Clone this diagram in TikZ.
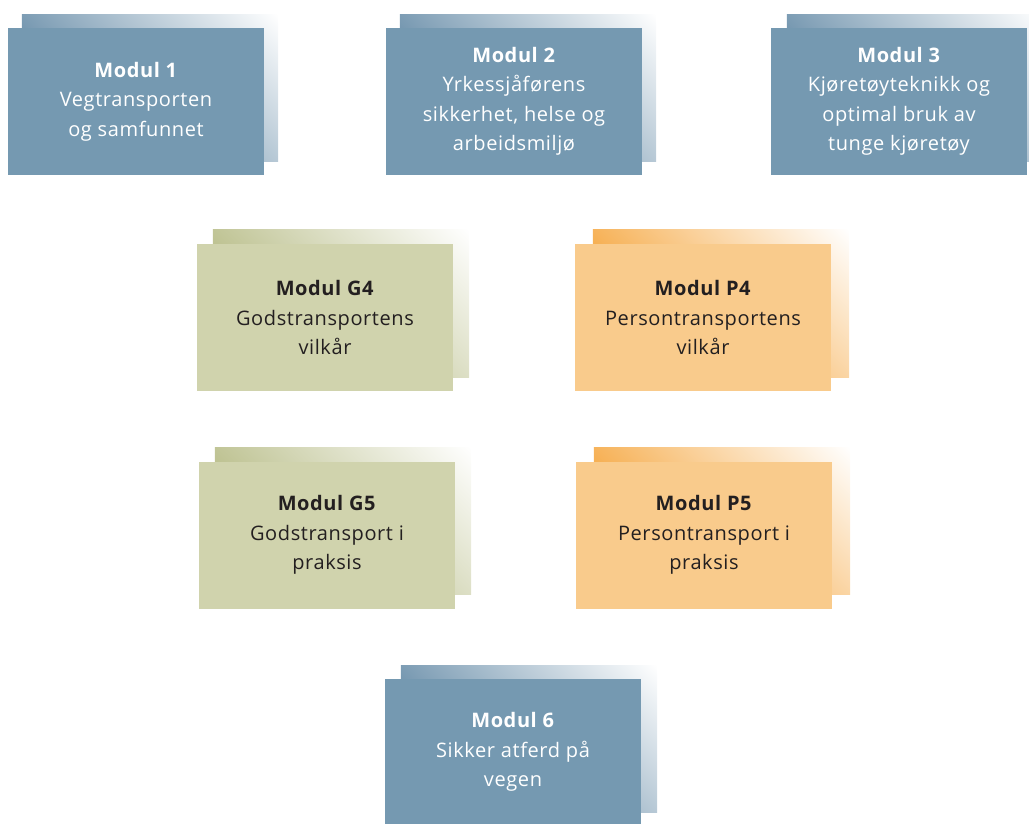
\documentclass[tikz,border=0pt]{standalone}
\usepackage{fontspec}
\setmainfont[LetterSpace=3]{Open Sans}
\usetikzlibrary{calc}
\definecolor{bluebox}{RGB}{117,153,177}
\definecolor{blueshade}{RGB}{100,138,166}
\definecolor{greenbox}{RGB}{208,211,173}
\definecolor{greenshade}{RGB}{181,186,131}
\definecolor{orangebox}{RGB}{249,203,140}
\definecolor{orangeshade}{RGB}{245,165,60}
\definecolor{darktext}{RGB}{35,31,32}
\newcommand\backcard[4]{%
  \node[backbox] (#1) at (#2,#3) {};
  \begin{scope}
    \clip (#1.south west) rectangle (#1.north east);
    \begin{scope}[transform canvas={rotate around={44:(#1.north east)}}]
      \shade[left color=#4, right color=white]
        ($(#1.north east)+(-220,-300)$) rectangle ($(#1.north east)+(0,300)$);
    \end{scope}
  \end{scope}}
\begin{document}
\begin{tikzpicture}[x=1pt,y=-1pt,
  frontbox/.style={minimum width=256pt, minimum height=147pt, inner sep=0pt,
    align=center, font=\fontsize{20}{29.5}\selectfont},
  backbox/.style={minimum width=256pt, minimum height=147pt, inner sep=0pt},
  bluemod/.style={frontbox, fill=bluebox, text=white},
  greenmod/.style={frontbox, fill=greenbox, text=darktext},
  orangemod/.style={frontbox, fill=orangebox, text=darktext}]
\useasboundingbox (0,0) rectangle (1029,823);
% back (shaded) cards
\backcard{b1}{150}{88}{blueshade}
\backcard{b2}{528}{88}{blueshade}
\backcard{b3}{915}{88}{blueshade}
\backcard{bg4}{341}{303.5}{greenshade}
\backcard{bp4}{721}{303.5}{orangeshade}
\backcard{bg5}{343}{521}{greenshade}
\backcard{bp5}{722}{521}{orangeshade}
\backcard{b6}{529}{739}{blueshade}
% front boxes
\node[bluemod] (m1) at (136,101.5) {\textbf{Modul 1}\\Vegtransporten\\og samfunnet};
\node[bluemod] (m2) at (514,101.5) {\textbf{Modul 2}\\Yrkessjåførens\\sikkerhet, helse og\\arbeidsmiljø};
\node[bluemod] (m3) at (899,101.5) {\textbf{Modul 3}\\Kjøretøyteknikk og\\optimal bruk av\\tunge kjøretøy};
\node[greenmod] (g4) at (325,317.5) {\textbf{Modul G4}\\Godstransportens\\vilkår};
\node[orangemod] (p4) at (703,317.5) {\textbf{Modul P4}\\Persontransportens\\vilkår};
\node[greenmod] (g5) at (327,535) {\textbf{Modul G5}\\Godstransport i\\praksis};
\node[orangemod] (p5) at (704,535) {\textbf{Modul P5}\\Persontransport i\\praksis};
\node[bluemod] (m6) at (513,752) {\textbf{Modul 6}\\Sikker atferd på\\vegen};
\end{tikzpicture}
\end{document}
